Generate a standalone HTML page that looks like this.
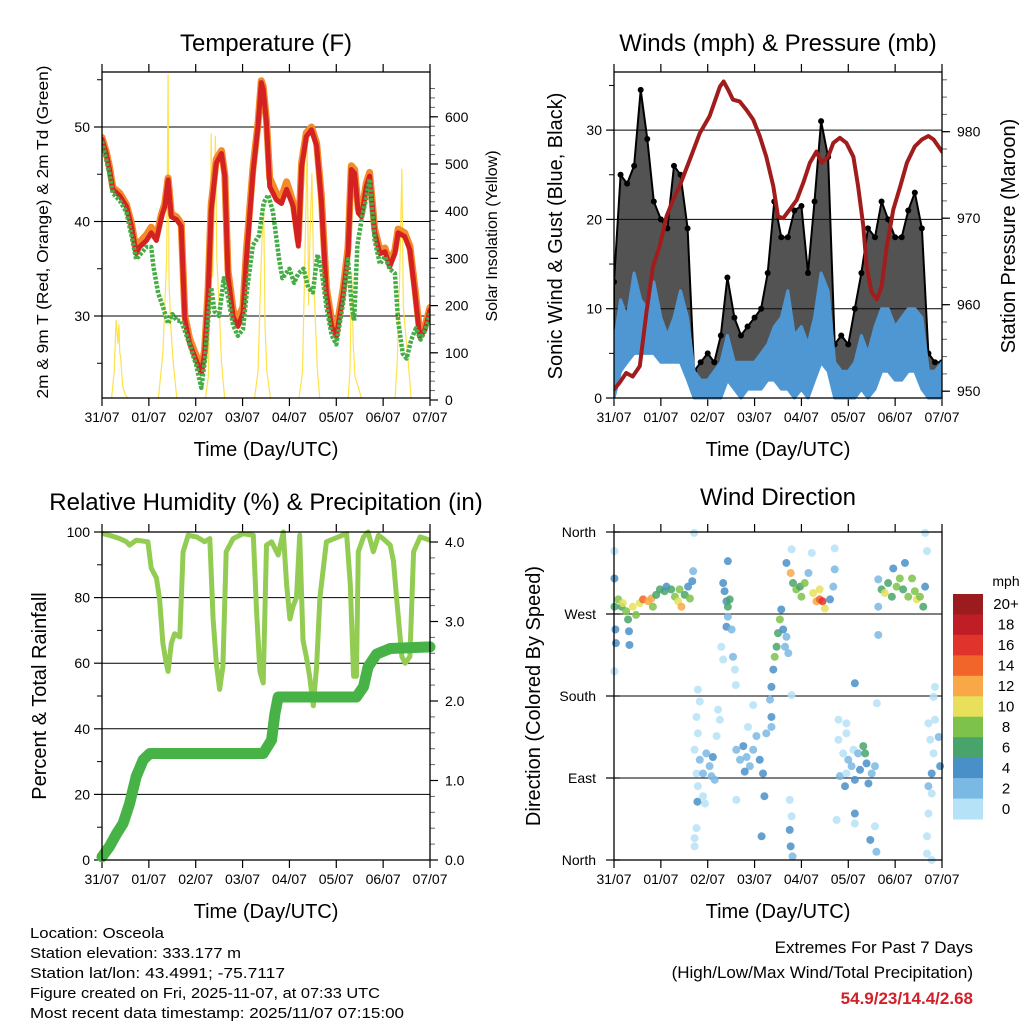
<!DOCTYPE html>
<html><head><meta charset="utf-8"><title>Station Meteogram</title>
<style>
html,body{margin:0;padding:0;background:#fff;}
svg{display:block;font-family:"Liberation Sans",Arial,sans-serif;}
</style></head>
<body>
<svg id="chart" width="1024" height="1024" viewBox="0 0 1024 1024" xmlns="http://www.w3.org/2000/svg">
<rect width="1024" height="1024" fill="#fff"/>
<g id="layer"></g>
<g font-family="Liberation Sans, Arial, sans-serif" font-size="15" fill="#000">
<text x="30" y="938" textLength="134" lengthAdjust="spacingAndGlyphs">Location: Osceola</text>
<text x="30" y="958" textLength="211" lengthAdjust="spacingAndGlyphs">Station elevation: 333.177 m</text>
<text x="30" y="978" textLength="255" lengthAdjust="spacingAndGlyphs">Station lat/lon: 43.4991; -75.7117</text>
<text x="30" y="998" textLength="350" lengthAdjust="spacingAndGlyphs">Figure created on Fri, 2025-11-07, at 07:33 UTC</text>
<text x="30" y="1018" textLength="374" lengthAdjust="spacingAndGlyphs">Most recent data timestamp: 2025/11/07 07:15:00</text>
<text x="973" y="953" font-size="17" text-anchor="end">Extremes For Past 7 Days</text>
<text x="973" y="978" font-size="17" text-anchor="end">(High/Low/Max Wind/Total Precipitation)</text>
<text x="973" y="1004" font-size="17" font-weight="bold" fill="#d0202a" text-anchor="end">54.9/23/14.4/2.68</text>
</g>
</svg>
<script>
// ---------------- DATA ----------------
const dayLabels = ["31/07","01/07","02/07","03/07","04/07","05/07","06/07","07/07"];

// Temperature panel
const tempT = [0,0.09,0.16,0.23,0.38,0.52,0.63,0.73,0.8,0.95,1.05,1.16,1.27,1.34,1.41,1.48,1.59,1.69,1.77,1.87,2.01,2.12,2.19,2.26,2.33,2.44,2.55,2.62,2.69,2.8,2.9,3.01,3.08,3.22,3.33,3.4,3.44,3.51,3.58,3.72,3.83,3.94,4.08,4.19,4.26,4.36,4.47,4.58,4.68,4.79,4.9,5.0,5.15,5.25,5.32,5.39,5.47,5.54,5.64,5.71,5.82,5.93,6.04,6.14,6.25,6.32,6.46,6.57,6.68,6.78,6.89,7.0];
const tempRed = [48.7,47.2,45.5,43.4,42.7,41.6,39.5,36.6,37.3,38.0,38.8,38.0,40.5,41.6,44.4,40.5,40.2,39.5,29.6,27.1,25.3,23.9,26.0,31.7,41.2,46.2,47.2,44.8,34.2,29.9,28.9,30.3,35.9,45.1,50.1,54.7,54.0,50.4,43.7,42.3,41.9,43.4,41.6,37.4,45.8,49.0,49.7,48.0,42.3,32.4,28.9,27.8,32.4,36.6,45.5,45.1,40.9,40.5,43.7,44.8,38.8,36.6,36.8,35.2,36.6,38.8,38.4,37.0,32.4,27.8,28.5,30.6];
const tempOrange = [48.9,47.4,45.8,43.6,43.0,41.8,39.8,37.0,37.8,38.6,39.4,38.4,40.8,41.9,44.6,40.8,40.5,39.8,30.0,27.6,25.8,24.4,26.4,32.4,41.8,46.6,47.5,45.0,34.8,30.6,29.6,31.0,36.8,45.6,50.4,54.9,54.3,50.7,44.6,43.0,42.6,44.2,42.0,38.0,46.2,49.4,50.0,48.3,42.8,33.0,29.5,28.4,33.0,37.2,45.9,45.5,41.3,40.9,44.1,45.2,39.2,37.0,37.2,35.6,37.0,39.2,38.8,37.4,32.9,28.3,28.9,30.9];
const dewT = [0,0.16,0.23,0.38,0.52,0.63,0.73,0.95,1.05,1.1,1.2,1.3,1.41,1.5,1.6,1.69,1.8,1.9,2.01,2.12,2.2,2.28,2.33,2.4,2.5,2.6,2.69,2.8,2.9,3.01,3.1,3.22,3.35,3.45,3.55,3.65,3.78,3.85,4.0,4.1,4.19,4.3,4.4,4.5,4.6,4.68,4.79,4.9,5.0,5.15,5.25,5.33,5.38,5.45,5.55,5.64,5.71,5.82,5.93,6.04,6.14,6.25,6.32,6.42,6.5,6.6,6.7,6.8,6.9,7.0];
const dewVal = [48.5,45.0,43.0,42.2,41.0,38.5,36.0,37.3,37.3,35.2,32.4,31.0,29.2,30.2,29.5,29.5,28.0,26.5,24.8,22.4,25.5,30.5,33.0,30.5,30.0,34.0,32.0,29.0,27.9,28.6,33.0,37.5,38.5,42.0,42.8,41.0,36.0,34.0,35.0,33.5,34.5,35.0,33.0,32.5,36.5,35.0,31.0,28.0,27.0,31.5,36.0,31.0,29.5,37.5,40.5,42.5,44.5,38.0,35.5,36.3,35.0,34.5,29.5,26.0,25.5,27.5,28.7,27.5,28.5,30.3];
const solarT = [0,0.2,0.26,0.3,0.34,0.36,0.38,0.4,0.44,0.5,0.6,1.2,1.3,1.36,1.38,1.41,1.43,1.47,1.52,1.6,2.2,2.27,2.31,2.33,2.36,2.38,2.42,2.45,2.5,2.55,2.62,3.25,3.33,3.37,3.41,3.45,3.48,3.52,3.6,4.2,4.28,4.33,4.38,4.41,4.44,4.48,4.52,4.56,4.6,4.65,5.25,5.29,5.33,5.36,5.4,5.55,6.25,6.3,6.35,6.4,6.43,6.47,6.52,6.6,7.0];
const solarV = [0,0,60,170,120,160,100,90,30,10,0,0,100,250,300,690,250,150,80,0,0,50,300,565,260,350,560,300,200,80,0,0,60,200,330,405,150,60,0,0,60,300,545,200,350,480,250,150,60,0,0,60,270,120,50,0,0,80,250,490,200,150,100,0,0];

// Winds panel
const windT = [0,0.14,0.28,0.43,0.57,0.71,0.85,1.0,1.14,1.28,1.42,1.57,1.71,1.85,2.0,2.14,2.28,2.42,2.57,2.71,2.85,3.0,3.14,3.28,3.42,3.57,3.71,3.85,4.0,4.14,4.28,4.42,4.57,4.71,4.85,5.0,5.14,5.28,5.42,5.57,5.71,5.85,6.0,6.14,6.28,6.42,6.57,6.71,6.85,7.0];
const windLo = [0,3,4,5,5,5,5,4,4,4,4,2,0,0,0,0,0,2,1,0,1,1,1,2,2,1,1,0,1,0,2,4,3,0,0,0,0,1,0,1,3,3,2,2,3,3,1,0,0,0];
const windHi = [6,11,9,14,11,10,13,9,7,9,12,9,3,2,2,3,4,7,4,4,4,4,5,6,8,9,12,7,8,6,9,14,12,4,3,3,4,7,5,8,10,10,8,9,10,10,9,3,3,4];
const gustLo = [2,6,8,9,10,10,6,5,5,6,6,3,0,1,1,0,2,3,2,2,3,3,4,5,6,5,3,2,3,2,5,8,6,1,1,1,2,3,4,5,5,6,5,5,6,7,5,1,1,1];
const gustHi = [13,25,24,26,34.5,29,22,20,19,26,25,19,3,4,5,4,7,13.5,9,7,8,9,10,14,22,18,18,21,21.5,14,22,31,27,6,7,6,10,14,19,18,22,20,18,18,21,23,19,5,4,4];
const presT = [0,0.12,0.26,0.4,0.55,0.69,0.83,0.97,1.12,1.26,1.4,1.62,1.83,2.04,2.26,2.34,2.43,2.54,2.68,2.83,2.97,3.11,3.25,3.4,3.5,3.61,3.75,3.9,4.04,4.18,4.32,4.43,4.57,4.68,4.82,4.96,5.11,5.21,5.32,5.39,5.5,5.61,5.71,5.82,5.96,6.11,6.25,6.42,6.57,6.71,6.82,7.0];
const presV = [950.2,951.0,952.1,951.7,952.9,959.0,964.4,966.7,970.2,972.1,973.7,976.8,979.8,981.8,985.2,985.8,984.9,983.7,983.5,982.5,981.4,979.5,977.1,973.7,970.2,970.0,971.0,972.1,974.1,976.4,977.7,976.4,977.1,978.7,979.3,978.7,977.1,973.7,969.1,964.4,961.4,960.6,962.1,966.7,971.0,973.7,976.4,978.3,979.1,979.5,979.1,977.7];

// RH & precip panel
const rhT = [0,0.16,0.38,0.52,0.59,0.73,0.98,1.05,1.16,1.23,1.3,1.37,1.41,1.48,1.55,1.66,1.73,1.84,2.02,2.19,2.3,2.37,2.44,2.51,2.58,2.65,2.8,3.01,3.23,3.3,3.37,3.44,3.51,3.62,3.76,3.87,3.94,4.01,4.08,4.15,4.22,4.29,4.36,4.43,4.51,4.58,4.65,4.79,5.22,5.3,5.37,5.43,5.47,5.58,5.68,5.79,5.9,6.0,6.15,6.22,6.29,6.4,6.47,6.57,6.65,6.79,7.0];
const rhV = [99.6,99,98,97,96,97.5,97,89,86,79.5,66,60,57.5,66,69,68,94,99,98.5,97,98,73.5,60,52,59,94,98,99.5,99,75.5,57.5,54,96,97,93,100,84,73.5,77.5,80,99,67,62,56,47,59,80,97,99.5,84,56,56,94,98.5,100,94,99,98,96,91,79.5,62,60,62,94,98.5,97.5];
const rainT = [0,0.16,0.31,0.45,0.59,0.73,0.88,1.02,3.44,3.62,3.69,3.76,5.43,5.58,5.68,5.86,6.15,7.0];
const rainV = [0.04,0.17,0.33,0.46,0.71,1.05,1.26,1.34,1.34,1.51,1.84,2.05,2.05,2.18,2.43,2.59,2.66,2.68];

// Wind direction panel
const dirT = [0.01,0.01,0.01,0.03,0.04,0.01,0.09,0.16,0.19,0.26,0.3,0.32,0.33,0.4,0.47,0.55,0.62,0.73,0.8,0.83,0.9,0.98,1.08,1.12,1.22,1.3,1.37,1.4,1.44,1.51,1.58,1.62,1.67,1.69,
1.71,1.79,1.83,1.76,1.79,1.72,1.83,1.76,1.79,1.9,1.94,1.78,1.97,2.04,2.11,2.15,2.19,2.22,2.26,2.08,1.76,1.72,1.72,1.9,
2.33,2.36,2.4,2.43,2.47,2.43,2.4,2.51,2.54,2.58,2.6,2.29,2.33,2.43,
2.61,2.69,2.76,2.83,2.9,2.79,2.97,3.04,3.11,3.18,3.21,3.25,2.97,3.15,2.61,2.86,
3.33,3.36,3.4,3.43,3.47,3.5,3.54,3.57,3.61,3.65,3.68,3.72,3.36,3.36,
3.68,3.77,3.79,3.82,3.89,3.97,4.0,4.07,4.15,4.22,4.25,4.32,4.39,4.45,4.5,4.39,4.61,4.68,4.71,4.71,3.75,3.79,3.75,3.77,3.81,3.79,
4.79,4.79,4.89,4.96,5.0,4.82,4.96,4.93,5.07,5.11,5.14,5.21,5.25,5.32,5.36,5.39,5.43,5.5,5.57,5.61,4.75,5.14,5.14,5.47,5.6,5.57,5.14,4.96,
5.64,5.71,5.78,5.85,5.93,5.96,6.03,6.1,6.17,6.21,6.28,6.36,6.42,6.46,6.53,6.6,6.64,5.64,5.64,6.64,6.68,
6.85,6.82,6.71,6.85,6.75,6.93,6.82,6.78,6.71,6.96,6.78,6.71,6.68,6.68,6.78];
const dirDeg = [339,309,278,253,238,207,286,278,282,273,264,251,236,278,269,282,286,284,287,278,291,297,295,300,297,289,284,297,278,291,300,287,306,317,
359,187,174,157,139,121,110,95,81,70,62,64,117,103,113,88,136,165,154,92,35,24,15,95,
304,295,284,278,286,267,256,253,223,209,192,234,220,328,
121,110,125,113,103,97,121,136,110,95,70,139,170,26,66,146,
176,190,209,223,234,249,264,275,253,234,245,227,157,146,
326,315,341,304,297,300,289,304,315,337,293,284,286,284,276,297,286,300,342,319,66,48,33,15,4,181,
154,132,117,139,110,92,95,81,103,121,88,117,99,125,117,106,84,95,103,172,44,51,40,22,9,37,194,150,
308,297,293,304,289,320,300,309,297,326,289,309,295,286,289,278,300,278,247,359,339,
190,179,150,154,132,135,117,95,81,103,73,51,26,7,0];
const dirSpd = [0,4,6,4,4,0,8,6,10,8,6,4,4,10,8,10,14,12,12,8,6,6,6,4,6,8,10,8,12,6,4,8,4,2,
0,0,0,0,0,0,2,0,0,0,0,4,2,2,4,2,0,0,0,2,0,0,0,2,
4,4,4,6,6,2,4,2,2,0,0,0,0,4,
2,2,4,2,2,4,2,2,4,4,4,2,0,4,0,0,
2,4,4,8,6,6,8,4,4,2,2,2,4,2,
4,12,0,6,8,6,8,8,2,0,10,12,14,16,10,10,4,2,0,2,0,0,4,4,2,0,
0,0,0,0,2,2,0,4,2,0,4,2,4,6,6,4,4,2,2,0,0,4,0,4,2,0,4,0,
2,6,10,6,6,4,8,8,6,4,8,8,8,10,8,6,4,2,2,0,0,
0,0,0,0,0,2,0,4,2,4,0,0,0,0,0];
const speedLevels = ["0","2","4","6","8","10","12","14","16","18","20+"];
const speedColors = ["#b5e2f7","#7ab9e3","#4a90c8","#48a46a","#7dc24a","#e8e05a","#f9a848","#f2652a","#e0332b","#c01e26","#9b1b1e"];

// ---------------- HELPERS ----------------
const NS = "http://www.w3.org/2000/svg";
const root = document.getElementById("layer");
function mk(tag, attrs, parent){
  const e = document.createElementNS(NS, tag);
  for (const k in attrs) e.setAttribute(k, attrs[k]);
  (parent||root).appendChild(e);
  return e;
}
function txt(x,y,s,size,anchor,parent,extra){
  const t = mk("text",{x:x,y:y,"font-size":size,"text-anchor":anchor||"middle",fill:"#000"},parent);
  if(extra) for(const k in extra) t.setAttribute(k,extra[k]);
  t.textContent = s;
  return t;
}
function pathFrom(xs, ys, fx, fy){
  let d="";
  for(let i=0;i<xs.length;i++) d += (i?"L":"M")+fx(xs[i]).toFixed(1)+","+fy(ys[i]).toFixed(1);
  return d;
}
function bandFrom(xs, lo, hi, fx, fy){
  let d="";
  for(let i=0;i<xs.length;i++) d += (i?"L":"M")+fx(xs[i]).toFixed(1)+","+fy(hi[i]).toFixed(1);
  for(let i=xs.length-1;i>=0;i--) d += "L"+fx(xs[i]).toFixed(1)+","+fy(lo[i]).toFixed(1);
  return d+"Z";
}
function panel(name, x0, x1, y0, y1, title, titleY){
  const g = mk("g",{});
  
  
  const t = txt((x0+x1)/2, titleY, title, 24, "middle", g);
  
  
  const step = (x1-x0)/7;
  const xa = mk("g",{},g);
  
  
  for(let i=0;i<dayLabels.length;i++){
    const x = x0+i*step;
    mk("line",{x1:x,x2:x,y1:y1,y2:y1+8,stroke:"#000","stroke-width":1.2},xa);
    mk("line",{x1:x,x2:x,y1:y0,y2:y0-8,stroke:"#000","stroke-width":1.2},xa);
    const l = txt(x, y1+24, dayLabels[i], 14, "middle", xa);
    
    
  }
  const xt = txt((x0+x1)/2, y1+58, "Time (Day/UTC)", 20, "middle", g);
  
  
  return g;
}
function frame(g,x0,x1,y0,y1){
  const r = mk("rect",{x:x0,y:y0,width:x1-x0,height:y1-y0,fill:"none",stroke:"#000","stroke-width":1.3},g);
  
  
}
function leftAxis(g,x0,x1,fy,major,minor,fmt,grid){
  for(const v of minor) mk("line",{x1:x0-5,x2:x0,y1:fy(v),y2:fy(v),stroke:"#000","stroke-width":1},g);
  for(const v of major){
    const y=fy(v);
    if(grid) mk("line",{x1:x0,x2:x1,y1:y,y2:y,stroke:"#000","stroke-width":1},g);
    mk("line",{x1:x0-8,x2:x0,y1:y,y2:y,stroke:"#000","stroke-width":1.2},g);
    const l = txt(x0-12,y+5,fmt(v),14,"end",g);
    
    
  }
}
function rightAxis(g,x1,fy,major,minor,fmt){
  for(const v of minor) mk("line",{x1:x1,x2:x1+5,y1:fy(v),y2:fy(v),stroke:"#666","stroke-width":1},g);
  for(const v of major){
    const y=fy(v);
    mk("line",{x1:x1,x2:x1+8,y1:y,y2:y,stroke:"#000","stroke-width":1.2},g);
    const l = txt(x1+15,y+5,fmt(v),14,"start",g);
    
    
  }
}
function vtitle(g,x,y,s,size,name,len){
  const t = txt(x,y,s,size,"middle",g,{transform:"rotate(-90 "+x+" "+y+")"});
  if(len){ t.setAttribute("textLength",len); t.setAttribute("lengthAdjust","spacingAndGlyphs"); }
  
  
}
function range(a,b,s){const r=[];for(let v=a;v<=b+1e-9;v+=s)r.push(Math.round(v*100)/100);return r;}

// ---------------- PANEL 1: Temperature ----------------
(function(){
  const X0=102,X1=430,Y0=72,Y1=398;
  const fx=d=>X0+d*(X1-X0)/7, fy=t=>316-(t-30)*9.45, fs=v=>400-v*0.472;
  const g = panel("temperature-panel",X0,X1,Y0,Y1,"Temperature (F)",51);
  const clip = mk("clipPath",{id:"c1"},g); mk("rect",{x:X0,y:Y0,width:X1-X0,height:Y1-Y0},clip);
  leftAxis(g,X0,X1,fy,[30,40,50],[25,35,45,55],v=>String(v),true);
  rightAxis(g,X1,fs,range(0,600,100),range(0,660,20),v=>String(v));
  vtitle(g,48,232,"2m & 9m T (Red, Orange) & 2m Td (Green)",16,"y-axis-title",333);
  vtitle(g,497,236,"Solar Insolation (Yellow)",16,"y2-axis-title");
  const pg = mk("g",{"clip-path":"url(#c1)"},g);
  const s = mk("path",{d:pathFrom(solarT,solarV,fx,fs),fill:"none",stroke:"#ffe14a","stroke-width":1.2},pg);
   
  const o = mk("path",{d:pathFrom(tempT,tempOrange,fx,fy),fill:"none",stroke:"#f58a2a","stroke-width":7,"stroke-linejoin":"round","stroke-linecap":"round"},pg);
   
  const r = mk("path",{d:pathFrom(tempT,tempRed,fx,fy),fill:"none",stroke:"#d42222","stroke-width":5,"stroke-linejoin":"round","stroke-linecap":"round"},pg);
   
  const gr = mk("path",{d:pathFrom(dewT,dewVal,fx,fy),fill:"none",stroke:"#44ad46","stroke-width":4.5,"stroke-dasharray":"3 1.5","stroke-linejoin":"round"},pg);
   
  frame(g,X0,X1,Y0,Y1);
})();

// ---------------- PANEL 2: Winds & Pressure ----------------
(function(){
  const X0=614,X1=942,Y0=72,Y1=398;
  const fx=d=>X0+d*(X1-X0)/7, fy=m=>398-m*8.93, fp=p=>131.7+(980-p)*8.65;
  const g = panel("winds-panel",X0,X1,Y0,Y1,"Winds (mph) & Pressure (mb)",51);
  const clip = mk("clipPath",{id:"c2"},g); mk("rect",{x:X0,y:Y0-4,width:X1-X0,height:Y1-Y0+8},clip);
  leftAxis(g,X0,X1,fy,[0,10,20,30],[5,15,25,35],v=>String(v),true);
  rightAxis(g,X1,fp,[950,960,970,980],range(950,986,2),v=>String(v));
  vtitle(g,562,236,"Sonic Wind & Gust (Blue, Black)",20,"y-axis-title");
  vtitle(g,1015,236,"Station Pressure (Maroon)",20,"y2-axis-title");
  const pg = mk("g",{"clip-path":"url(#c2)"},g);
  const gb = mk("path",{d:bandFrom(windT,gustLo,gustHi,fx,fy),fill:"#111","fill-opacity":0.72,stroke:"#000","stroke-width":2,"stroke-linejoin":"round"},pg);
   
  for(let i=0;i<windT.length;i++){
    const c = mk("circle",{cx:fx(windT[i]),cy:fy(gustHi[i]),r:3,fill:"#000"},pg);
     
  }
  const wb = mk("path",{d:bandFrom(windT,windLo,windHi,fx,fy),fill:"#4f97d3",stroke:"#4f97d3","stroke-width":3,"stroke-linejoin":"round"},pg);
   
  const p = mk("path",{d:pathFrom(presT,presV,fx,fp),fill:"none",stroke:"#a11d1d","stroke-width":4,"stroke-linejoin":"round","stroke-linecap":"round"},pg);
   
  frame(g,X0,X1,Y0,Y1);
})();

// ---------------- PANEL 3: RH & Precip ----------------
(function(){
  const X0=102,X1=430,Y0=532,Y1=860;
  const fx=d=>X0+d*(X1-X0)/7, fy=p=>860-p*3.28, fr=i=>860-i*79.5;
  const g = panel("humidity-panel",X0,X1,Y0,Y1,"Relative Humidity (%) & Precipitation (in)",510);
  leftAxis(g,X0,X1,fy,[0,20,40,60,80,100],[10,30,50,70,90],v=>String(v),true);
  rightAxis(g,X1,fr,[0,1,2,3,4],range(0,4.1,0.2),v=>v.toFixed(1));
  vtitle(g,46,696,"Percent & Total Rainfall",20,"y-axis-title");
  const rh = mk("path",{d:pathFrom(rhT,rhV,fx,fy),fill:"none",stroke:"#92cc52","stroke-width":5,"stroke-linejoin":"round"},g);
   
  const rn = mk("path",{d:pathFrom(rainT,rainV,fx,fr),fill:"none",stroke:"#47b347","stroke-width":11,"stroke-linejoin":"round","stroke-linecap":"round"},g);
   
  frame(g,X0,X1,Y0,Y1);
})();

// ---------------- PANEL 4: Wind Direction ----------------
(function(){
  const X0=614,X1=942,Y0=532,Y1=860;
  const fx=d=>X0+d*(X1-X0)/7, fy=d=>860-d/360*328;
  const g = panel("wind-direction-panel",X0,X1,Y0,Y1,"Wind Direction",505);
  const names=["North","East","South","West","North"];
  [0,90,180,270,360].forEach((v,i)=>{
    const y=fy(v);
    if(v>0&&v<360) mk("line",{x1:X0,x2:X1,y1:y,y2:y,stroke:"#000","stroke-width":1},g);
    mk("line",{x1:X0-8,x2:X0+6,y1:y,y2:y,stroke:"#000","stroke-width":1.2},g);
    const l = txt(X0-18,y+5,names[i],14,"end",g);
    
    
  });
  vtitle(g,540,696,"Direction (Colored By Speed)",20,"y-axis-title");
  const pg = mk("g",{"fill-opacity":0.85},g);
  for(let i=0;i<dirT.length;i++){
    const c = mk("circle",{cx:fx(dirT[i]),cy:fy(dirDeg[i]),r:4,fill:speedColors[Math.min(10,Math.round(dirSpd[i]/2))]},pg);
     
  }
  frame(g,X0,X1,Y0,Y1);
  const cb = mk("g",{},g);
   
  const u = txt(1006,586,"mph",14,"middle",cb);
   
  const h=(819-594)/speedLevels.length;
  for(let i=0;i<speedLevels.length;i++){
    const k=speedLevels.length-1-i;
    const y=594+i*h;
    const r=mk("rect",{x:953,y:y,width:30,height:h+0.5,fill:speedColors[k]},cb);
     
    const l=txt(1006,y+h/2+5,speedLevels[k],15,"middle",cb);
     
  }
})();
</script>
</body></html>
